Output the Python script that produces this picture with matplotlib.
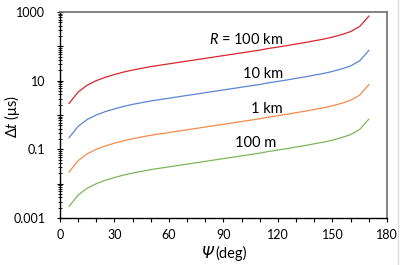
import matplotlib
matplotlib.use("Agg")
import matplotlib.pyplot as plt
from matplotlib.ticker import LogLocator, FixedLocator, NullFormatter, MultipleLocator, FuncFormatter
from matplotlib.lines import Line2D

plt.rcParams['font.family'] = ['Lato', 'DejaVu Sans']
plt.rcParams['mathtext.fontset'] = 'custom'
plt.rcParams['mathtext.it'] = 'Lato:italic'
plt.rcParams['mathtext.rm'] = 'Lato'

psi = [5, 10, 15, 20, 25, 30, 35, 40, 45, 50, 55, 60, 65, 70, 75, 80, 85, 90,
       95, 100, 105, 110, 115, 120, 125, 130, 135, 140, 145, 150, 155, 160, 165, 170]

dt_100km = [2.19, 4.68, 7.41, 10.0, 12.6, 15.1, 17.8, 20.4, 22.9, 25.7, 28.2, 30.9,
            33.9, 37.2, 40.7, 44.7, 49.0, 53.7, 58.9, 64.6, 70.8, 77.6, 87.1, 95.5,
            105, 117, 129, 145, 162, 186, 219, 269, 380, 759]
dt_10km = [0.219, 0.468, 0.741, 1.00, 1.26, 1.51, 1.78, 2.04, 2.29, 2.57, 2.82, 3.09,
           3.39, 3.72, 4.07, 4.47, 4.90, 5.37, 5.89, 6.46, 7.08, 7.76, 8.71, 9.55,
           10.5, 11.7, 12.9, 14.5, 16.2, 18.6, 21.9, 26.9, 38.0, 75.9]
dt_1km = [0.0219, 0.0468, 0.0741, 0.100, 0.126, 0.151, 0.178, 0.204, 0.229, 0.257, 0.282, 0.309,
          0.339, 0.372, 0.407, 0.447, 0.490, 0.537, 0.589, 0.646, 0.708, 0.776, 0.871, 0.955,
          1.05, 1.17, 1.29, 1.45, 1.62, 1.86, 2.19, 2.69, 3.80, 7.59]
dt_100m = [0.00219, 0.00468, 0.00741, 0.0100, 0.0126, 0.0151, 0.0178, 0.0204, 0.0229, 0.0257, 0.0282, 0.0309,
           0.0339, 0.0372, 0.0407, 0.0447, 0.0490, 0.0537, 0.0589, 0.0646, 0.0708, 0.0776, 0.0871, 0.0955,
           0.105, 0.117, 0.129, 0.145, 0.162, 0.186, 0.219, 0.269, 0.380, 0.759]

series = [dt_100km, dt_10km, dt_1km, dt_100m]
labels = [r'$R$ = 100 km', '10 km', '1 km', '100 m']
colors = ['#D9262B', '#5B86D3', '#F28B4A', '#7DB65A']

x_ticks = [0, 30, 60, 90, 120, 150, 180]
y_labelled = {0.001: '0.001', 0.1: '0.1', 10: '10', 1000: '1000'}

fig = plt.figure(figsize=(4.02, 2.65), dpi=100)
ax = fig.add_axes([60/402, 1-218/265, 327/402, 206/265])

for ys, c in zip(series, colors):
    ax.plot(psi, ys, color=c, lw=0.9)

ax.set_yscale('log')
ax.set_xlim(0, 180)
ax.set_ylim(0.001, 1000)

ax.xaxis.set_major_locator(FixedLocator(x_ticks))
ax.xaxis.set_minor_locator(MultipleLocator(10))
ax.yaxis.set_major_locator(LogLocator(base=10, numticks=20))
ax.yaxis.set_major_formatter(FuncFormatter(
    lambda v, p: y_labelled.get(round(v, 6), '')))
ax.yaxis.set_minor_locator(LogLocator(base=10, subs=range(2, 10), numticks=20))
ax.yaxis.set_minor_formatter(NullFormatter())

ax.tick_params(axis='x', which='both', direction='out', length=3, width=0.8,
               labelsize=9, pad=5, color='black')
ax.tick_params(axis='y', which='major', direction='inout', length=5, width=0.8,
               labelsize=9, pad=8)
ax.tick_params(axis='y', which='minor', direction='inout', length=3, width=0.6)

for s in ['left', 'bottom']:
    ax.spines[s].set_color('black')
    ax.spines[s].set_linewidth(1.0)
for s in ['top', 'right']:
    ax.spines[s].set_color('#6e6e6e')
    ax.spines[s].set_linewidth(1.2)

# x label: italic Psi + (deg)
fig.text(213/402, 1-253/265, 'Ψ', fontsize=11, style='italic', ha='right', va='center',
         family=['DejaVu Sans'])
fig.text(215/402, 1-253/265, '(deg)', fontsize=10.5, ha='left', va='center')

# y label
fig.text(12/402, 1-116/265, r'$\Delta$$t$ (μs)', fontsize=10.5, rotation=90,
         ha='center', va='center')

label_pos = [(283, 39), (283, 74), (283, 109), (276, 143)]
for (px, py), txt in zip(label_pos, labels):
    ax.text(px/402, 1-py/265, txt, transform=fig.transFigure, ha='right', va='center',
            fontsize=10.5, color='black')

fig.add_artist(Line2D([398/402, 398/402], [0, 1], transform=fig.transFigure,
                      color='#dcdcdc', lw=1.0))

fig.savefig('out.png', dpi=100)
